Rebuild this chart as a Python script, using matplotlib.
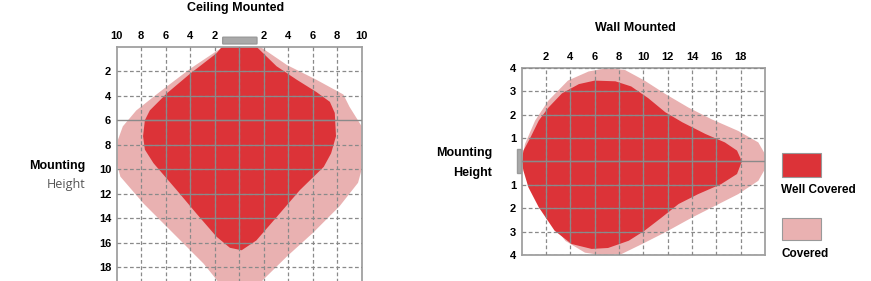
import matplotlib
matplotlib.use("Agg")
import matplotlib.pyplot as plt
from matplotlib.patches import Polygon, Rectangle, FancyBboxPatch

# ceiling mounted coverage (x: metres left/right, y: metres down)
ceil_well_x = [-1.4, -1.85, -4.0, -5.9, -7.3, -7.7, -7.85, -7.7, -7.0, -5.1, -3.5, -1.85, -0.76, 0.2,
               1.4, 3.05, 4.95, 6.9, 7.5, 7.9, 7.8, 7.4, 6.3, 4.7, 3.05, 1.96, 1.4]
ceil_well_y = [0.0, 0.54, 2.2, 3.8, 5.2, 6.0, 7.3, 8.4, 9.5, 11.7, 13.6, 15.5, 16.4, 16.6,
               15.8, 13.9, 11.7, 9.8, 8.7, 7.3, 5.4, 4.5, 3.7, 2.7, 1.6, 0.54, 0.0]
ceil_cov_x = [-1.3, -4.0, -6.5, -8.4, -9.5, -9.9, -10.0, -9.7, -7.8, -5.1, -2.9, -1.85, -1.0, 0.0,
              1.0, 1.96, 3.9, 6.0, 8.2, 9.7, 10.0, 10.0, 9.0, 8.5, 6.3, 3.9, 1.7]
ceil_cov_y = [0.0, 1.8, 3.7, 5.2, 6.5, 7.6, 9.5, 10.6, 12.8, 15.5, 17.7, 19.0, 20.3, 20.8,
              20.3, 19.0, 17.1, 15.2, 13.0, 11.1, 10.0, 6.5, 4.9, 3.9, 2.7, 1.5, 0.0]

# wall mounted coverage (x: metres out, y: metres up/down)
wall_well_x = [0.0, 0.14, 0.7, 1.4, 2.2, 3.3, 4.7, 6.0, 7.7, 9.0, 10.4, 11.8, 13.2, 15.1, 16.7, 17.7,
               18.1, 17.7, 16.4, 14.5, 12.9, 11.5, 10.1, 8.8, 7.1, 5.75, 4.1, 2.7, 1.4, 0.55, 0.14]
wall_well_y = [0.0, 0.46, 1.0, 1.74, 2.3, 2.9, 3.3, 3.45, 3.42, 3.2, 2.7, 2.1, 1.67, 1.17, 0.81, 0.46,
               0.0, -0.54, -0.97, -1.4, -1.82, -2.4, -2.96, -3.39, -3.7, -3.74, -3.53, -2.96, -1.96, -1.11, -0.4]
wall_cov_x = [0.0, 0.27, 1.1, 2.2, 3.8, 5.5, 7.1, 8.5, 10.1, 11.8, 13.7, 15.6, 17.8, 19.45, 20.0,
              20.0, 19.45, 17.8, 15.9, 14.0, 11.8, 9.9, 8.2, 6.85, 5.2, 3.6, 1.9, 0.8, 0.14]
wall_cov_y = [0.0, 0.74, 1.74, 2.6, 3.45, 3.84, 3.99, 3.9, 3.45, 2.88, 2.3, 1.8, 1.3, 0.81, 0.31,
              -0.33, -0.83, -1.4, -1.9, -2.4, -3.03, -3.53, -3.96, -4.03, -3.9, -3.4, -2.25, -1.1, -0.26]

ceil_xticks = list(range(-10, 11, 2))
ceil_xlabels = ["10", "8", "6", "4", "2", "", "2", "4", "6", "8", "10"]
ceil_yticks = list(range(2, 19, 2))
wall_xticks = list(range(0, 21, 2))
wall_xlabels = ["", "2", "4", "6", "8", "10", "12", "14", "16", "18", ""]
wall_yticks = [4, 3, 2, 1, 0, -1, -2, -3, -4]
wall_ylabels = ["4", "3", "2", "1", "", "1", "2", "3", "4"]

RED = "#dc3338"
PINK = "#e9b1b1"
GRID = "#8a8a8a"

plt.rcParams["font.family"] = ["Liberation Sans", "DejaVu Sans"]

fig = plt.figure(figsize=(8.71, 2.81), dpi=100)


def setup(ax, xticks, xlabels, yticks, ylabels, solid_h=None):
    ax.set_xticks(xticks)
    ax.set_xticklabels(xlabels, fontweight="bold", fontsize=8)
    ax.set_yticks(yticks)
    ax.set_yticklabels(ylabels, fontweight="bold", fontsize=8)
    ax.tick_params(length=0, pad=4, top=True, labeltop=True, bottom=False, labelbottom=False)
    for s in ax.spines.values():
        s.set_color("#a0a0a0")
        s.set_linewidth(1.3)
    for t in xticks[1:-1]:
        ax.axvline(t, color=GRID, lw=0.9, ls=(0, (3, 2)), zorder=3)
    for t in yticks:
        if t == solid_h:
            ax.axhline(t, color=GRID, lw=1.0, zorder=3)
        else:
            ax.axhline(t, color=GRID, lw=0.9, ls=(0, (3, 2)), zorder=3)


def shapes(ax, cx, cy, wx, wy, xticks, yticks):
    cov = Polygon(list(zip(cx, cy)), closed=True, fc=PINK, ec="none", zorder=1)
    well = Polygon(list(zip(wx, wy)), closed=True, fc=RED, ec="none", zorder=2)
    ax.add_patch(cov)
    ax.add_patch(well)
    # grid shows solid inside the well covered area
    for t in xticks[1:-1]:
        ln = ax.axvline(t, color=GRID, lw=0.9, zorder=4)
        ln.set_clip_path(well)
    for t in yticks:
        ln = ax.axhline(t, color=GRID, lw=0.9, zorder=4)
        ln.set_clip_path(well)


# ceiling mounted
ax1 = fig.add_axes([0.134, -0.039, 0.2813, 0.873])
ax1.set_xlim(-10, 10)
ax1.set_ylim(20, 0)
shapes(ax1, ceil_cov_x, ceil_cov_y, ceil_well_x, ceil_well_y, ceil_xticks, ceil_yticks)
setup(ax1, ceil_xticks, ceil_xlabels, ceil_yticks, [str(v) for v in ceil_yticks], solid_h=6)
ax1.add_patch(FancyBboxPatch((-1.3, -0.72), 2.7, 0.45, boxstyle="round,pad=0.05",
                             fc="#a9a9a9", ec="#9a9a9a", clip_on=False, zorder=6))

# wall mounted
ax2 = fig.add_axes([0.599, 0.0925, 0.2793, 0.6665])
ax2.set_xlim(0, 20)
ax2.set_ylim(-4, 4)
shapes(ax2, wall_cov_x, wall_cov_y, wall_well_x, wall_well_y, wall_xticks, wall_yticks)
setup(ax2, wall_xticks, wall_xlabels, wall_yticks, wall_ylabels, solid_h=0)
ax2.add_patch(Rectangle((-0.42, -0.5), 0.32, 1.02, fc="#a9a9a9", ec="#9a9a9a",
                        clip_on=False, zorder=6))

# titles and side labels
fig.text(0.270, 0.972, "Ceiling Mounted", ha="center", va="center", fontsize=9, fontweight="bold")
fig.text(0.730, 0.900, "Wall Mounted", ha="center", va="center", fontsize=9, fontweight="bold")
fig.text(0.0976, 0.409, "Mounting", ha="right", va="center", fontsize=9, fontweight="bold")
fig.text(0.0976, 0.342, "Height", ha="right", va="center", fontsize=9, color="#555555",
         family=["Open Sans", "DejaVu Sans"])
fig.text(0.565, 0.456, "Mounting", ha="right", va="center", fontsize=9, fontweight="bold")
fig.text(0.565, 0.384, "Height", ha="right", va="center", fontsize=9, fontweight="bold")

# legend
fig.add_artist(Rectangle((0.898, 0.370), 0.0448, 0.0854, transform=fig.transFigure,
                         fc=RED, ec="#999999", lw=0.8))
fig.add_artist(Rectangle((0.898, 0.146), 0.0448, 0.078, transform=fig.transFigure,
                         fc=PINK, ec="#999999", lw=0.8))
fig.text(0.897, 0.324, "Well Covered", ha="left", va="center", fontsize=8.5, fontweight="bold")
fig.text(0.897, 0.096, "Covered", ha="left", va="center", fontsize=8.5, fontweight="bold")

fig.savefig("out.png", dpi=100)
